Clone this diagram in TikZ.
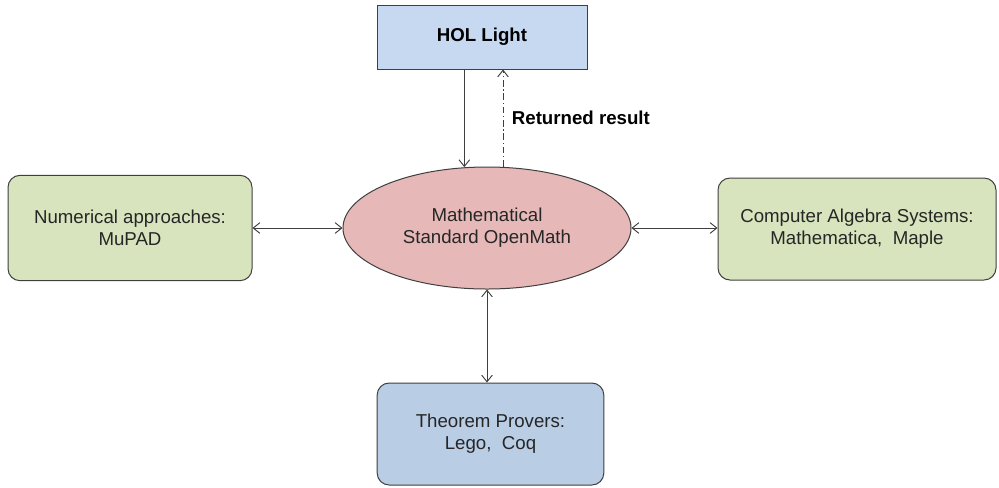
\documentclass[tikz,border=0pt]{standalone}
\usepackage{fontspec}
\setmainfont{Liberation Sans}
\usepackage{tikz}
\usetikzlibrary{arrows.meta, shapes.geometric}

\definecolor{holblue}{HTML}{C6D9F1}
\definecolor{provblue}{HTML}{B9CDE5}
\definecolor{ompink}{HTML}{E6B9B8}
\definecolor{sysgreen}{HTML}{D7E4BD}
\definecolor{edgegray}{HTML}{3F3F3F}

\tikzset{
  sysbox/.style={draw=edgegray, line width=.75pt, rounded corners=9pt, inner sep=0pt, align=center,
    font=\fontsize{14}{16.5}\selectfont, text=black!85},
  link/.style={draw=edgegray, line width=.7pt, {Straight Barb[length=5pt,width=8pt]}-{Straight Barb[length=5pt,width=8pt]}},
  oneway/.style={draw=edgegray, line width=.7pt, -{Straight Barb[length=5pt,width=8pt]}}
}

\begin{document}
\begin{tikzpicture}[x=.75pt, y=-.75pt]
					\useasboundingbox (0,0) rectangle (999,487);
					% Nodes
					\node[draw=edgegray, fill=holblue, line width=.75pt, inner sep=0pt, minimum width=157.5pt, minimum height=48pt,
					  font=\fontsize{14}{16}\selectfont\bfseries] (hol) at (482,37) {HOL Light};
					\node[ellipse, draw=edgegray, fill=ompink, line width=.75pt, inner sep=0pt, minimum width=216pt, minimum height=91.5pt,
					  align=center, font=\fontsize{14}{16.5}\selectfont, text=black!85] (openmath) at (487,228) {Mathematical\\Standard OpenMath};
					\node[sysbox, fill=sysgreen, minimum width=183pt, minimum height=79pt] (numeric) at (130,228) {Numerical approaches:\\MuPAD};
					\node[sysbox, fill=sysgreen, minimum width=208.5pt, minimum height=76.5pt] (cas) at (857,229) {Computer Algebra Systems:\\Mathematica,\ \ Maple};
					\node[sysbox, fill=provblue, minimum width=170pt, minimum height=76.5pt] (provers) at (490.5,434) {Theorem Provers:\\Lego,\ \ Coq};
					
					% Arrows
					\coordinate (query) at ([xshift=-17pt,yshift=-.5pt]openmath.north);
					\coordinate (answer) at ([xshift=12pt]openmath.north);
					\draw[oneway] (hol.south -| query) -- (query);
					\draw[oneway, dash pattern=on 5pt off 2pt on 1pt off 2pt] (answer) -- (answer |- hol.south)
					  node[pos=.5, right=3pt, font=\fontsize{14}{16}\selectfont\bfseries, text=black] (ret) {Returned result};
					\draw[link] (numeric.east) -- (numeric.east -| openmath.west);
					\draw[link] (openmath.east) -- (openmath.east -| cas.west);
					\draw[link] (openmath.south) -- (openmath.south |- provers.north);
				\end{tikzpicture}
\end{document}
